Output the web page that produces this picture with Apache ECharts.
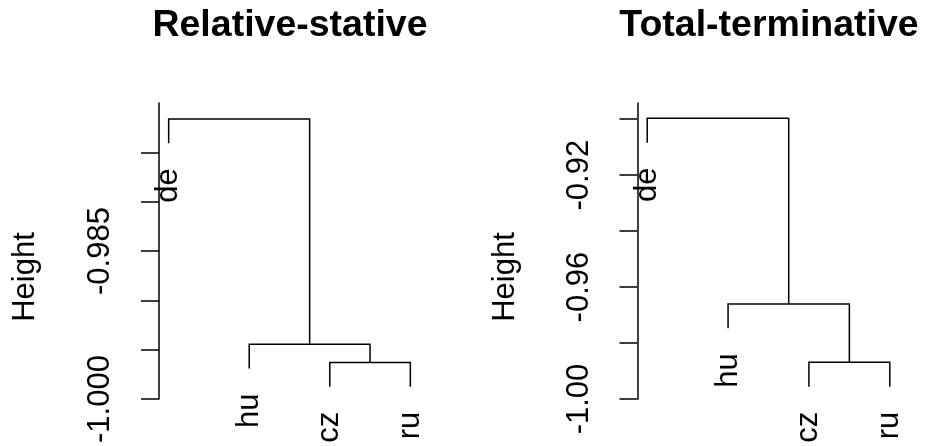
<!DOCTYPE html>
<html>
<head>
<meta charset="utf-8">
<script src="https://cdn.jsdelivr.net/npm/echarts@6/dist/echarts.min.js"></script>
<style>
  html, body { margin: 0; padding: 0; background: #fff; }
  #chart { width: 926px; height: 446px; }
</style>
</head>
<body>
<div id="chart"></div>
<script>
// leaves in plot order, merges in R hclust style (negative = leaf, positive = earlier merge)
var leafLabels = ['de', 'hu', 'cz', 'ru'];
var mergePairs = [[-3, -4], [-2, 1], [-1, 2]];
var relStativeHeights = [-0.99629, -0.99444, -0.97162];
var totTermHeights = [-0.98688, -0.96603, -0.89964];

var relTicks = [-1.000, -0.995, -0.990, -0.985, -0.980, -0.975];
var relLabels = [-1.000, -0.985];
var totTicks = [-1.00, -0.98, -0.96, -0.94, -0.92, -0.90];
var totLabels = [-1.00, -0.96, -0.92];

var FONT = 'Liberation Sans, Arial, sans-serif';
var LW = 1.5;

/* build segments and leaf ends for one dendrogram */
function buildTree(heights) {
	var hang = 0.1 * (Math.max.apply(null, heights) - Math.min.apply(null, heights));
	var mergeX = [];
	var segs = [];
	var leaves = [];
	for (var i = 0; i < mergePairs.length; i++) {
		var h = heights[i];
		var pts = [];
		for (var k = 0; k < 2; k++) {
			var c = mergePairs[i][k];
			if (c < 0) {
				pts.push([-c, h - hang]);
				leaves.push([-c, h - hang, leafLabels[-c - 1]]);
			} else {
				pts.push([mergeX[c - 1], heights[c - 1]]);
			}
		}
		mergeX[i] = (pts[0][0] + pts[1][0]) / 2;
		segs.push([pts[0][0], pts[0][1], pts[1][0], pts[1][1], h]);
	}
	return { segs: segs, leaves: leaves };
}

function renderSeg(params, api) {
	var a = api.coord([api.value(0), api.value(1)]);
	var b = api.coord([api.value(0), api.value(4)]);
	var c = api.coord([api.value(2), api.value(4)]);
	var d = api.coord([api.value(2), api.value(3)]);
	return {
		type: 'polyline',
		shape: { points: [a, b, c, d] },
		style: { stroke: '#000', lineWidth: LW, fill: null }
	};
}

function renderLeaf(params, api) {
	var p = api.coord([api.value(0), api.value(1)]);
	return {
		type: 'text',
		x: p[0],
		y: p[1] + 25,
		rotation: Math.PI / 2,
		style: {
			text: leafLabels[api.value(0) - 1],
			font: '31px ' + FONT,
			fill: '#000',
			align: 'right',
			verticalAlign: 'middle'
		}
	};
}

function yAxisOpt(idx, max, ticks, labels, digits) {
	return {
		type: 'value',
		gridIndex: idx,
		min: -1,
		max: max,
		axisLine: { show: true, lineStyle: { color: '#000', width: LW } },
		axisTick: { show: true, length: 18, customValues: ticks, lineStyle: { color: '#000', width: LW } },
		axisLabel: {
			customValues: labels,
			rotate: 90,
			margin: 43,
			fontSize: 31,
			fontFamily: FONT,
			color: '#000',
			formatter: function (v) { return Number(v).toFixed(digits); }
		},
		splitLine: { show: false }
	};
}

var rel = buildTree(relStativeHeights);
var tot = buildTree(totTermHeights);

var chart = echarts.init(document.getElementById('chart'));
chart.setOption({
	backgroundColor: '#fff',
	animation: false,
	title: [
		{ text: 'Relative-stative', left: 290, top: 7, textAlign: 'center', padding: 0,
			textStyle: { fontSize: 37.5, fontWeight: 'bold', fontFamily: FONT, color: '#000' } },
		{ text: 'Total-terminative', left: 769, top: 7, textAlign: 'center', padding: 0,
			textStyle: { fontSize: 37.5, fontWeight: 'bold', fontFamily: FONT, color: '#000' } }
	],
	graphic: [
		{ type: 'text', x: 25, y: 277, rotation: Math.PI / 2,
			style: { text: 'Height', font: '31px ' + FONT, fill: '#000', align: 'center', verticalAlign: 'middle' } },
		{ type: 'text', x: 505, y: 277, rotation: Math.PI / 2,
			style: { text: 'Height', font: '31px ' + FONT, fill: '#000', align: 'center', verticalAlign: 'middle' } }
	],
	grid: [
		{ left: 159, top: 103, width: 261, height: 296 },
		{ left: 637.5, top: 103, width: 262, height: 296 }
	],
	xAxis: [
		{ type: 'value', gridIndex: 0, min: 0.88, max: 4.12, show: false },
		{ type: 'value', gridIndex: 1, min: 0.88, max: 4.12, show: false }
	],
	yAxis: [
		yAxisOpt(0, -0.970, relTicks, relLabels, 3),
		yAxisOpt(1, -0.8942, totTicks, totLabels, 2)
	],
	series: [
		{ type: 'custom', xAxisIndex: 0, yAxisIndex: 0, clip: false, data: rel.segs, renderItem: renderSeg },
		{ type: 'custom', xAxisIndex: 0, yAxisIndex: 0, clip: false, data: rel.leaves, renderItem: renderLeaf },
		{ type: 'custom', xAxisIndex: 1, yAxisIndex: 1, clip: false, data: tot.segs, renderItem: renderSeg },
		{ type: 'custom', xAxisIndex: 1, yAxisIndex: 1, clip: false, data: tot.leaves, renderItem: renderLeaf }
	]
});
</script>
</body>
</html>
